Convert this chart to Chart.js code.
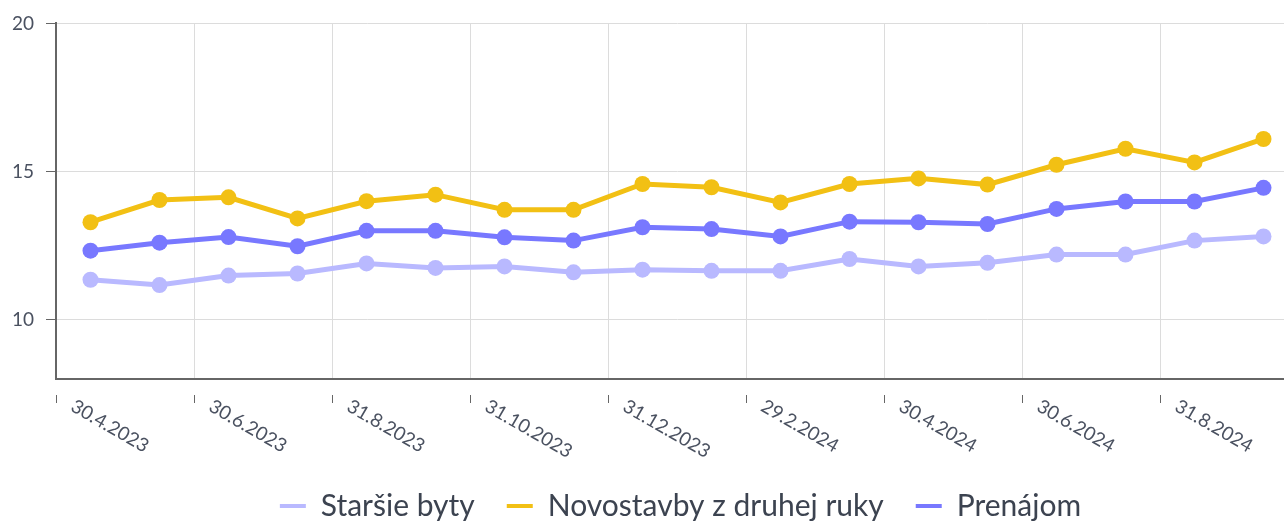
<!DOCTYPE html>
<html>
<head>
<meta charset="utf-8">
<script src="https://cdn.jsdelivr.net/npm/chart.js@4.4.0/dist/chart.umd.min.js"></script>
<style>
    html, body { margin: 0; padding: 0; overflow: hidden; background: #fff; }
    #wrap { width: 1361px; height: 521px; position: relative; }
</style>
</head>
<body>
<div id="wrap"><canvas id="chart"></canvas></div>
<script>
// Dáta
const labels = ['30.4.2023', '31.5.2023', '30.6.2023', '31.7.2023', '31.8.2023', '30.9.2023',
    '31.10.2023', '30.11.2023', '31.12.2023', '31.1.2024', '29.2.2024', '31.3.2024',
    '30.4.2024', '31.5.2024', '30.6.2024', '31.7.2024', '31.8.2024', '30.9.2024'];
const starsieByty = [11.35, 11.17, 11.49, 11.56, 11.90, 11.75, 11.80, 11.60, 11.69,
    11.65, 11.65, 12.05, 11.80, 11.92, 12.20, 12.20, 12.67, 12.81];
const novostavby = [13.29, 14.04, 14.13, 13.42, 14.00, 14.22, 13.71, 13.71, 14.58,
    14.47, 13.96, 14.58, 14.77, 14.56, 15.23, 15.77, 15.31, 16.10];
const prenajom = [12.33, 12.60, 12.79, 12.48, 13.00, 13.00, 12.78, 12.67, 13.12,
    13.06, 12.81, 13.31, 13.29, 13.23, 13.74, 13.99, 13.99, 14.45];
const yTicks = [10, 15, 20];

const FONT = 'Lato';
const TEXT = '#4a5160';

/**
 * Popisky osi X otočené nadol (Chart.js ich vie otočiť len nahor)
 */
const xLabelsPlugin = {
    id: 'xLabels',
    afterDraw(chart) {
        const x = chart.scales.x;
        const ctx = chart.ctx;
        const half = (x.getPixelForValue(1) - x.getPixelForValue(0)) / 2;
        ctx.save();
        ctx.font = '19px ' + FONT;
        ctx.fillStyle = TEXT;
        ctx.strokeStyle = '#666';
        ctx.lineWidth = 1;
        labels.forEach((lab, i) => {
            if (i % 2) return;
            const px = Math.round(x.getPixelForValue(i) - half) + 0.5;
            ctx.beginPath();
            ctx.moveTo(px, x.top + 16);
            ctx.lineTo(px, x.top + 24);
            ctx.stroke();
            ctx.save();
            ctx.translate(px + 13, x.top + 31);
            ctx.rotate(Math.PI / 6);
            ctx.textAlign = 'left';
            ctx.textBaseline = 'alphabetic';
            ctx.fillText(lab, 0, 0);
            ctx.restore();
        });
        ctx.restore();
    }
};

function dataset(label, data, color) {
    return {
        label: label,
        data: data,
        borderColor: color,
        backgroundColor: color,
        pointBackgroundColor: color,
        borderWidth: 5,
        pointRadius: 8,
        pointBorderWidth: 0,
        tension: 0
    };
}

new Chart(document.getElementById('chart'), {
    type: 'line',
    data: {
        labels: labels,
        datasets: [
            dataset('Staršie byty', starsieByty, '#b9b9ff'),
            dataset('Novostavby z druhej ruky', novostavby, '#f2c014'),
            dataset('Prenájom', prenajom, '#7878ff')
        ]
    },
    plugins: [xLabelsPlugin],
    options: {
        responsive: true,
        maintainAspectRatio: false,
        animation: false,
        layout: { padding: { top: 23, right: 0, bottom: -10, left: 0 } },
        plugins: {
            tooltip: { enabled: false },
            legend: {
                position: 'bottom',
                labels: {
                    boxWidth: 26,
                    boxHeight: 4,
                    padding: 32,
                    color: '#3c4350',
                    font: { family: FONT, size: 30 },
                    generateLabels(chart) {
                        return chart.data.datasets.map((ds, i) => ({
                            text: ds.label,
                            fillStyle: ds.borderColor,
                            strokeStyle: ds.borderColor,
                            lineWidth: 0,
                            hidden: false,
                            datasetIndex: i,
                            fontColor: '#3c4350'
                        }));
                    }
                }
            }
        },
        scales: {
            x: {
                offset: true,
                afterFit(axis) { axis.height = 80; },
                ticks: { display: false, autoSkip: false },
                grid: {
                    offset: true,
                    drawTicks: false,
                    color: (c) => (c.index % 2 === 0 ? '#dcdcdc' : 'rgba(0,0,0,0)'),
                    lineWidth: 1
                },
                border: { display: true, color: '#666', width: 2 }
            },
            y: {
                min: 8,
                max: 20,
                afterFit(axis) { axis.width = 56; },
                afterBuildTicks(axis) { axis.ticks = yTicks.map(v => ({ value: v })); },
                ticks: {
                    padding: 12,
                    color: TEXT,
                    font: { family: FONT, size: 19 }
                },
                grid: {
                    color: '#dcdcdc',
                    tickColor: '#666',
                    tickLength: 10,
                    lineWidth: 1
                },
                border: { display: true, color: '#666', width: 2 }
            },
            // prázdne miesto vpravo, aby bola legenda vycentrovaná ako v origináli
            yRight: {
                position: 'right',
                afterFit(axis) { axis.width = 63; },
                ticks: { display: false },
                grid: { display: false },
                border: { display: false }
            }
        }
    }
});
</script>
</body>
</html>
